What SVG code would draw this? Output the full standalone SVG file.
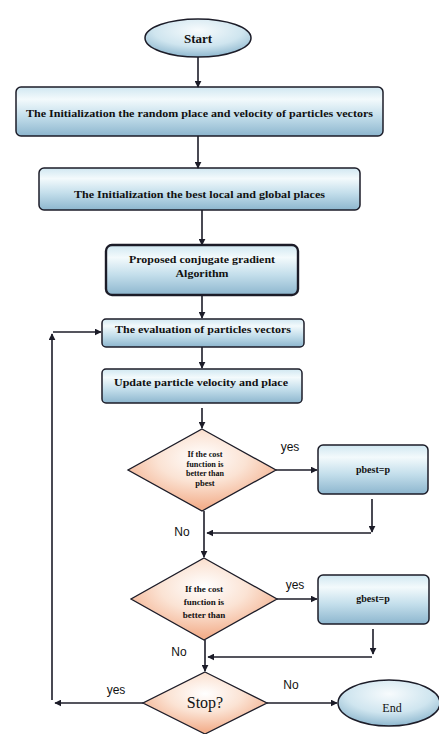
<svg xmlns="http://www.w3.org/2000/svg" width="439" height="734" viewBox="0 0 439 734">
<defs>
<linearGradient id="gBox" x1="0" y1="0" x2="0" y2="1">
<stop offset="0" stop-color="#d0e7f1"/>
<stop offset="0.25" stop-color="#f3fafc"/>
<stop offset="0.6" stop-color="#c3deeb"/>
<stop offset="1" stop-color="#8db6ce"/>
</linearGradient>
<radialGradient id="gEll" cx="0.5" cy="0.3" r="0.7">
<stop offset="0" stop-color="#f7fbfd"/>
<stop offset="0.6" stop-color="#cfe5ef"/>
<stop offset="1" stop-color="#8fb8cf"/>
</radialGradient>
<radialGradient id="gDia" cx="0.5" cy="0.35" r="0.6">
<stop offset="0" stop-color="#ffffff"/>
<stop offset="0.5" stop-color="#fbe3d4"/>
<stop offset="1" stop-color="#f3b08e"/>
</radialGradient>
<marker id="ah" viewBox="0 0 10 10" refX="9" refY="5" markerWidth="7" markerHeight="7" markerUnits="userSpaceOnUse" orient="auto">
<path d="M0,0 L10,5 L0,10 z" fill="#1c1c28"/>
</marker>
<style>
.box{fill:url(#gBox);stroke:#1c1c28;stroke-width:1.5}
.thick{stroke-width:2.4}
.ell{fill:url(#gEll);stroke:#1c1c28;stroke-width:1.5}
.dia{fill:url(#gDia);stroke:#1c1c28;stroke-width:1.3}
.t{font-family:"Liberation Serif","Times New Roman",serif;font-weight:bold;fill:#111;text-anchor:middle}
.s{font-family:"Liberation Serif","Times New Roman",serif;fill:#111;text-anchor:middle}
.lbl{font-family:"Liberation Sans",Arial,sans-serif;fill:#111;font-size:12px;text-anchor:middle}
.c{fill:none;stroke:#1c1c28;stroke-width:1.6;marker-end:url(#ah)}
</style>
</defs>
<g id="start">
<ellipse class="ell" cx="198" cy="38" rx="53" ry="19"/>
<text class="t" x="198" y="43" font-size="13">Start</text>
</g>
<g id="init1">
<rect class="box" x="16" y="87" width="367" height="49" rx="5"/>
<text class="t" x="199.5" y="117" font-size="10.5" textLength="347" lengthAdjust="spacingAndGlyphs">The Initialization the random place and velocity of particles vectors</text>
</g>
<g id="init2">
<rect class="box" x="39" y="168" width="321" height="42" rx="5"/>
<text class="t" x="199.5" y="198" font-size="10.5" textLength="251" lengthAdjust="spacingAndGlyphs">The Initialization the best local and global places</text>
</g>
<g id="cg">
<rect class="box thick" x="106" y="245" width="192" height="50" rx="6"/>
<text class="t" x="202" y="263" font-size="11" textLength="146" lengthAdjust="spacingAndGlyphs">Proposed conjugate gradient</text>
<text class="t" x="202" y="277" font-size="11" textLength="53" lengthAdjust="spacingAndGlyphs">Algorithm</text>
</g>
<g id="eval">
<rect class="box" x="102" y="319" width="202" height="28" rx="4"/>
<text class="t" x="203" y="333" font-size="10.5" textLength="176" lengthAdjust="spacingAndGlyphs">The evaluation of particles vectors</text>
</g>
<g id="update">
<rect class="box" x="102" y="369" width="200" height="34" rx="4"/>
<text class="t" x="201" y="386" font-size="10.5" textLength="174" lengthAdjust="spacingAndGlyphs">Update particle velocity and place</text>
</g>
<g id="dec1">
<polygon class="dia" points="202,429 276,470 202,511 128,470"/>
<text class="t" x="205" y="457" font-size="8.5" textLength="35" lengthAdjust="spacingAndGlyphs">If the cost</text>
<text class="t" x="205" y="466.5" font-size="8.5" textLength="37" lengthAdjust="spacingAndGlyphs">function is</text>
<text class="t" x="205" y="476" font-size="8.5" textLength="38" lengthAdjust="spacingAndGlyphs">better than</text>
<text class="t" x="205" y="485.5" font-size="8.5">pbest</text>
</g>
<g id="pbest">
<rect class="box" x="318" y="445" width="110" height="49" rx="5"/>
<text class="t" x="373" y="473" font-size="10">pbest=p</text>
</g>
<g id="dec2">
<polygon class="dia" points="204,558 277,599 204,640 131,599"/>
<text class="t" x="204" y="592" font-size="9">If the cost</text>
<text class="t" x="204" y="605" font-size="9">function is</text>
<text class="t" x="204" y="618" font-size="9">better than</text>
</g>
<g id="gbest">
<rect class="box" x="318" y="575" width="111" height="49" rx="5"/>
<text class="t" x="373" y="602" font-size="10">gbest=p</text>
</g>
<g id="stop">
<polygon class="dia" points="205,672 267,703 205,734 143,703"/>
<text class="s" x="205" y="708" font-size="16">Stop?</text>
</g>
<g id="end">
<ellipse class="ell" cx="389" cy="703" rx="51" ry="23"/>
<text class="s" x="392" y="712" font-size="12">End</text>
</g>
<g id="connectors">
<path class="c" d="M198,57 V87"/>
<path class="c" d="M198,136 V168"/>
<path class="c" d="M202,210 V245"/>
<path class="c" d="M202,295 V318"/>
<path class="c" d="M202,347 V368"/>
<path class="c" d="M202,408 V428"/>
<path class="c" d="M276,470 H317"/>
<path class="c" d="M372,499 V532"/>
<path class="c" d="M371,533 H207"/>
<path class="c" d="M204,511 V557"/>
<path class="c" d="M277,599 H317"/>
<path class="c" d="M373,629 V654"/>
<path class="c" d="M372,657 H208"/>
<path class="c" d="M205,640 V671"/>
<path class="c" d="M267,703 H337"/>
<path class="c" d="M143,703 H55"/>
<path class="c" d="M52,700 V334"/>
<path class="c" d="M53,332 H101"/>
<text class="lbl" x="290" y="451">yes</text>
<text class="lbl" x="182" y="536">No</text>
<text class="lbl" x="295" y="589">yes</text>
<text class="lbl" x="179" y="656">No</text>
<text class="lbl" x="116" y="694">yes</text>
<text class="lbl" x="291" y="689">No</text>
</g>
</svg>
